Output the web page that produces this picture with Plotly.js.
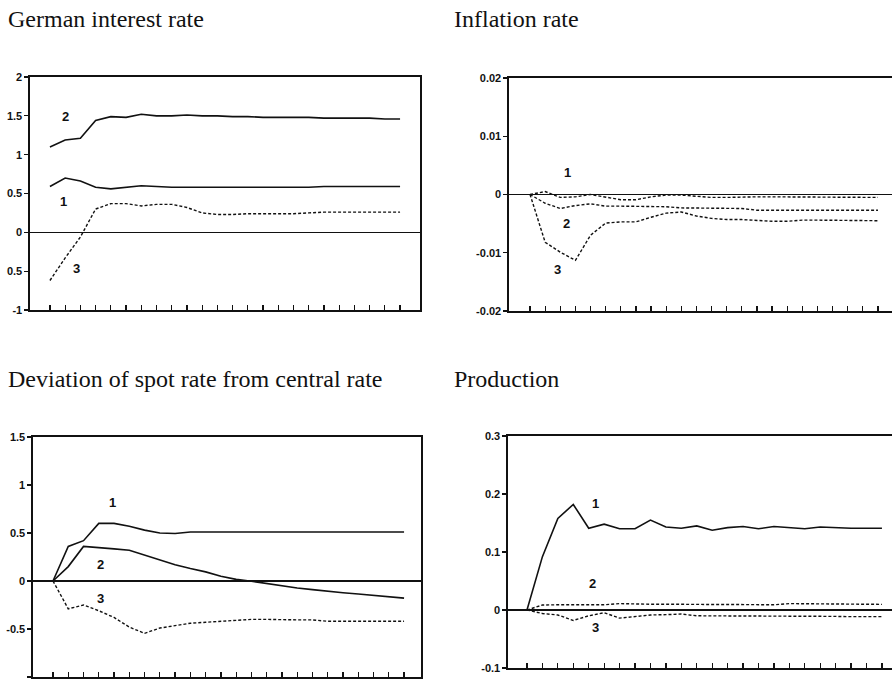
<!DOCTYPE html>
<html>
<head>
<meta charset="utf-8">
<script src="https://cdn.plot.ly/plotly-3.0.1.min.js"></script>
<style>
html,body{margin:0;padding:0;overflow:hidden;background:#fff;}
#chart{width:900px;height:680px;}
</style>
</head>
<body>
<div id="chart"></div>
<script>
// Period index (24 periods per panel)
const periods = Array.from({length: 24}, (_, i) => i);

// Panel titles
const panelTitles = ["German interest rate", "Inflation rate", "Deviation of spot rate from central rate", "Production"];

// German interest rate
const germanS1 = [0.59, 0.70, 0.66, 0.58, 0.56, 0.58, 0.60, 0.59, 0.58, 0.58, 0.58, 0.58, 0.58, 0.58, 0.58, 0.58, 0.58, 0.58, 0.59, 0.59, 0.59, 0.59, 0.59, 0.59];
const germanS2 = [1.10, 1.19, 1.21, 1.44, 1.49, 1.48, 1.52, 1.50, 1.50, 1.51, 1.50, 1.50, 1.49, 1.49, 1.48, 1.48, 1.48, 1.48, 1.47, 1.47, 1.47, 1.47, 1.46, 1.46];
const germanS3 = [-0.62, -0.33, -0.06, 0.30, 0.37, 0.37, 0.34, 0.36, 0.36, 0.32, 0.25, 0.23, 0.23, 0.24, 0.24, 0.24, 0.24, 0.25, 0.26, 0.26, 0.26, 0.26, 0.26, 0.26];
const germanTickVals = [-1, -0.5, 0, 0.5, 1, 1.5, 2];
const germanTickText = ["-1", "0.5", "0", "0.5", "1", "1.5", "2"];

// Inflation rate
const inflS1 = [0, 0.0005, -0.0005, -0.0004, 0, -0.0005, -0.0009, -0.0009, -0.0004, -0.0001, -0.0001, -0.0003, -0.0005, -0.0005, -0.0004, -0.0004, -0.0004, -0.0004, -0.0004, -0.0004, -0.0004, -0.0005, -0.0005, -0.0005];
const inflS2 = [0, -0.0015, -0.0024, -0.0019, -0.0016, -0.0020, -0.0020, -0.0020, -0.0020, -0.0021, -0.0023, -0.0023, -0.0023, -0.0024, -0.0024, -0.0027, -0.0027, -0.0027, -0.0027, -0.0027, -0.0027, -0.0027, -0.0027, -0.0027];
const inflS3 = [0, -0.0082, -0.0099, -0.0113, -0.0070, -0.0049, -0.0047, -0.0047, -0.0039, -0.0032, -0.0030, -0.0037, -0.0041, -0.0043, -0.0043, -0.0045, -0.0046, -0.0046, -0.0044, -0.0044, -0.0044, -0.0045, -0.0045, -0.0045];
const inflTickVals = [-0.02, -0.01, 0, 0.01, 0.02];
const inflTickText = ["-0.02", "-0.01", "0", "0.01", "0.02"];

// Deviation of spot rate from central rate
const devS1 = [0, 0.36, 0.42, 0.60, 0.60, 0.57, 0.53, 0.50, 0.495, 0.51, 0.51, 0.51, 0.51, 0.51, 0.51, 0.51, 0.51, 0.51, 0.51, 0.51, 0.51, 0.51, 0.51, 0.51];
const devS2 = [0, 0.15, 0.36, 0.35, 0.335, 0.32, 0.27, 0.22, 0.17, 0.13, 0.095, 0.05, 0.017, -0.003, -0.028, -0.052, -0.073, -0.09, -0.108, -0.122, -0.136, -0.15, -0.164, -0.178];
const devS3 = [0, -0.29, -0.25, -0.31, -0.38, -0.48, -0.545, -0.49, -0.465, -0.44, -0.43, -0.42, -0.405, -0.40, -0.40, -0.405, -0.405, -0.405, -0.42, -0.42, -0.42, -0.42, -0.42, -0.42];
const devTickVals = [-1, -0.5, 0, 0.5, 1, 1.5];
const devTickText = ["-1", "-0.5", "0", "0.5", "1", "1.5"];

// Production
const prodS1 = [0, 0.092, 0.158, 0.182, 0.141, 0.148, 0.140, 0.140, 0.155, 0.143, 0.141, 0.145, 0.1375, 0.142, 0.144, 0.140, 0.144, 0.142, 0.140, 0.143, 0.1415, 0.141, 0.141, 0.141];
const prodS2 = [0, 0.0086, 0.009, 0.009, 0.009, 0.009, 0.011, 0.010, 0.010, 0.010, 0.0095, 0.0095, 0.0095, 0.0095, 0.0095, 0.0095, 0.009, 0.011, 0.011, 0.011, 0.0105, 0.010, 0.010, 0.0097];
const prodS3 = [0, -0.006, -0.0086, -0.018, -0.010, -0.0046, -0.014, -0.011, -0.0086, -0.008, -0.007, -0.010, -0.010, -0.010, -0.010, -0.010, -0.010, -0.0105, -0.011, -0.011, -0.011, -0.0115, -0.0115, -0.0115];
const prodTickVals = [-0.1, 0, 0.1, 0.2, 0.3];
const prodTickText = ["-0.1", "0", "0.1", "0.2", "0.3"];

const W = 900, H = 680;
const solid = {color: "#111", width: 1.6};
const dotted = {color: "#111", width: 1.4, dash: "3px,2px"};

function tr(y, xa, ya, line) {
  return {x: periods, y: y, xaxis: xa, yaxis: ya, mode: "lines", line: line, hoverinfo: "skip", showlegend: false};
}

const data = [
  tr(germanS1, "x", "y", solid), tr(germanS2, "x", "y", solid), tr(germanS3, "x", "y", dotted),
  tr(inflS1, "x2", "y2", dotted), tr(inflS2, "x2", "y2", dotted), tr(inflS3, "x2", "y2", dotted),
  tr(devS1, "x3", "y3", solid), tr(devS2, "x3", "y3", solid), tr(devS3, "x3", "y3", dotted),
  tr(prodS1, "x4", "y4", solid), tr(prodS2, "x4", "y4", dotted), tr(prodS3, "x4", "y4", dotted)
];

const tickFont = {family: "Liberation Sans, Arial, sans-serif", size: 11, color: "#111", weight: "bold"};

function xax(left, right, range, anchor) {
  return {domain: [left / W, right / W], range: range, anchor: anchor,
    showline: true, mirror: true, linecolor: "#111", linewidth: 1.6,
    ticks: "inside", ticklen: 5, tickwidth: 1.3, tickcolor: "#111",
    tickmode: "array", tickvals: periods, showticklabels: false,
    showgrid: false, zeroline: false, fixedrange: true};
}
function yax(top, bottom, range, tv, tt, anchor) {
  return {domain: [1 - bottom / H, 1 - top / H], range: range, anchor: anchor,
    showline: true, mirror: true, linecolor: "#111", linewidth: 1.6,
    ticks: "outside", ticklen: 4, tickwidth: 1.3, tickcolor: "#111",
    tickmode: "array", tickvals: tv, ticktext: tt, tickfont: tickFont, ticklabelstandoff: 0,
    showgrid: false, zeroline: true, zerolinecolor: "#111", zerolinewidth: 1.6, fixedrange: true};
}

function titleAnn(text, xpx, ypx) {
  return {text: text, xref: "paper", yref: "paper", x: xpx / W, y: 1 - ypx / H,
    xanchor: "left", yanchor: "middle", showarrow: false,
    font: {family: "Liberation Serif, Times New Roman, serif", size: 24, color: "#111"}};
}
function lab(text, x, y, xa, ya) {
  return {text: text, x: x, y: y, xref: xa, yref: ya, showarrow: false,
    xanchor: "center", yanchor: "middle",
    font: {family: "Liberation Sans, Arial, sans-serif", size: 13, color: "#111", weight: "bold"}};
}

const layout = {
  width: W, height: H,
  margin: {l: 0, r: 0, t: 0, b: 0},
  paper_bgcolor: "#fff", plot_bgcolor: "#fff",
  showlegend: false,
  xaxis: xax(30, 420, [-1.31, 24.31], "y"),
  yaxis: yax(77, 310, [-1, 2], germanTickVals, germanTickText, "x"),
  xaxis2: xax(509, 899, [-1.39, 24.39], "y2"),
  yaxis2: yax(78, 311, [-0.02, 0.02], inflTickVals, inflTickText, "x2"),
  xaxis3: xax(33, 421, [-1.31, 24.11], "y3"),
  yaxis3: yax(437, 677, [-1, 1.5], devTickVals, devTickText, "x3"),
  xaxis4: xax(508, 900, [-1.23, 24.17], "y4"),
  yaxis4: yax(436, 668, [-0.1, 0.3], prodTickVals, prodTickText, "x4"),
  annotations: [
    titleAnn(panelTitles[0], 6, 19),
    titleAnn(panelTitles[1], 452, 19),
    titleAnn(panelTitles[2], 6, 379),
    titleAnn(panelTitles[3], 452, 379),
    lab("2", 1.05, 1.49, "x", "y"), lab("1", 0.88, 0.40, "x", "y"), lab("3", 1.75, -0.47, "x", "y"),
    lab("1", 2.47, 0.0037, "x2", "y2"), lab("2", 2.38, -0.005, "x2", "y2"), lab("3", 1.81, -0.0129, "x2", "y2"),
    lab("1", 3.91, 0.816, "x3", "y3"), lab("2", 3.12, 0.17, "x3", "y3"), lab("3", 3.12, -0.185, "x3", "y3"),
    lab("1", 4.41, 0.183, "x4", "y4"), lab("2", 4.26, 0.046, "x4", "y4"), lab("3", 4.41, -0.031, "x4", "y4")
  ]
};

Plotly.newPlot("chart", data, layout, {staticPlot: true, displayModeBar: false});
</script>
</body>
</html>
